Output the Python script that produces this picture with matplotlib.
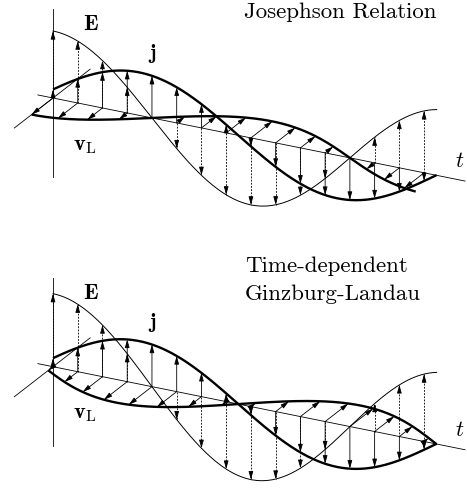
import numpy as np
import matplotlib
matplotlib.use('Agg')
import matplotlib.pyplot as plt

plt.rcParams['mathtext.fontset'] = 'cm'
plt.rcParams['axes.unicode_minus'] = False

# Values (pixel units of the 467x489 image)
panel_titles = [['Josephson Relation'], ['Time-dependent', 'Ginzburg-Landau']]
origin_y = [99.0, 367.7]          # where the three axes meet, per panel
E_amp = [67.0, 73.0]              # E = E_amp * cos(t)
j_amp = [43.0, 43.0]              # j = j_amp * sin(t + phase)
j_phase = [0.2, 0.2]
v_amp = [27.0, 30.0]              # v_L along the depth axis
v_mode = ['minus_E', 'minus_j']   # v_L follows -E (Josephson) or -j (TDGL)
arrow_deg = [0, 22.5, 45, 67.5, 90, 112.5, 135, 157.5,
             180, 202.5, 225, 247.5, 270, 292.5, 315, 337.5]
t_end = 6.09

# oblique projection: t runs down-right, z up, depth up-right
x0 = 53.0
t_step = (63.0, 12.7)             # pixels per radian along the t axis
d_dir = (0.790, -0.613)


def proj(t, z, d, y0):
    t, z, d = np.broadcast_arrays(t, z, d)
    x = x0 + t_step[0] * t + d_dir[0] * d
    y = y0 + t_step[1] * t - z + d_dir[1] * d
    return x, y


def fields(t, i):
    E = E_amp[i] * np.cos(t)
    j = j_amp[i] * np.sin(t + j_phase[i])
    if v_mode[i] == 'minus_E':
        v = -v_amp[i] * np.cos(t)
    else:
        v = -v_amp[i] * np.sin(t + j_phase[i])
    return E, j, v


head = dict(arrowstyle='-|>,head_length=0.6,head_width=0.17', lw=0.6,
            color='k', shrinkA=0, shrinkB=0, mutation_scale=8)


def arrow(ax, p0, p1, dashed=False):
    p0 = (float(p0[0]), float(p0[1]))
    p1 = (float(p1[0]), float(p1[1]))
    dx, dy = p1[0] - p0[0], p1[1] - p0[1]
    L = np.hypot(dx, dy)
    if L < 1.5:
        return
    if dashed:
        ax.plot([p0[0], p1[0]], [p0[1], p1[1]], color='k', lw=0.6,
                ls=(0, (2.2, 1.6)))
        back = min(4.0, L)
        start = (p1[0] - dx / L * back, p1[1] - dy / L * back)
        ax.annotate('', xy=p1, xytext=start, arrowprops=head)
    else:
        ax.annotate('', xy=p1, xytext=p0, arrowprops=head)


fig = plt.figure(figsize=(4.67, 4.89), dpi=100)
ax = fig.add_axes([0, 0, 1, 1])
ax.set_xlim(0, 467)
ax.set_ylim(489, 0)
ax.axis('off')

for i in range(2):
    y0 = origin_y[i]
    # axes
    ax.plot(*proj(np.array([-0.24, 6.54]), 0, 0, y0), color='k', lw=0.6)
    ax.plot(*proj(0, np.array([-79.0, 89.0]), 0, y0), color='k', lw=0.6)
    ax.plot(*proj(0, 0, np.array([-49.0, 47.0]), y0), color='k', lw=0.6)

    # curves
    t = np.linspace(0, t_end, 400)
    E, j, v = fields(t, i)
    ax.plot(*proj(t, E, 0, y0), color='k', lw=0.7)
    ax.plot(*proj(t, j, 0, y0), color='k', lw=1.7, solid_capstyle='butt')
    ax.plot(*proj(t, 0, v, y0), color='k', lw=1.7, solid_capstyle='butt')

    # arrows
    ta = np.radians(arrow_deg)
    Ea, ja, va = fields(ta, i)
    for tk, ek, jk, vk in zip(ta, Ea, ja, va):
        base = proj(tk, 0, 0, y0)
        arrow(ax, base, proj(tk, ek, 0, y0), dashed=True)
        arrow(ax, base, proj(tk, jk, 0, y0))
        arrow(ax, base, proj(tk, 0, vk, y0))

    dy = y0 - origin_y[0]
    ax.text(83, 30 + dy, r'$\mathbf{E}$', fontsize=16)
    ax.text(148, 59 + dy, r'$\mathbf{j}$', fontsize=15)
    ax.text(73, 150 + dy, r'$\mathbf{v}_\mathrm{L}$', fontsize=16)
    ax.text(455, 167 + dy, r'$t$', fontsize=16)

ax.text(340, 18, panel_titles[0][0], family='cmr10', fontsize=16.5,
        ha='center', va='baseline')
ax.text(245, 272, panel_titles[1][0], family='cmr10', fontsize=16.5,
        ha='left', va='baseline')
ax.text(245, 300, panel_titles[1][1], family='cmr10', fontsize=16.5,
        ha='left', va='baseline')

fig.savefig('out.png', dpi=100)
